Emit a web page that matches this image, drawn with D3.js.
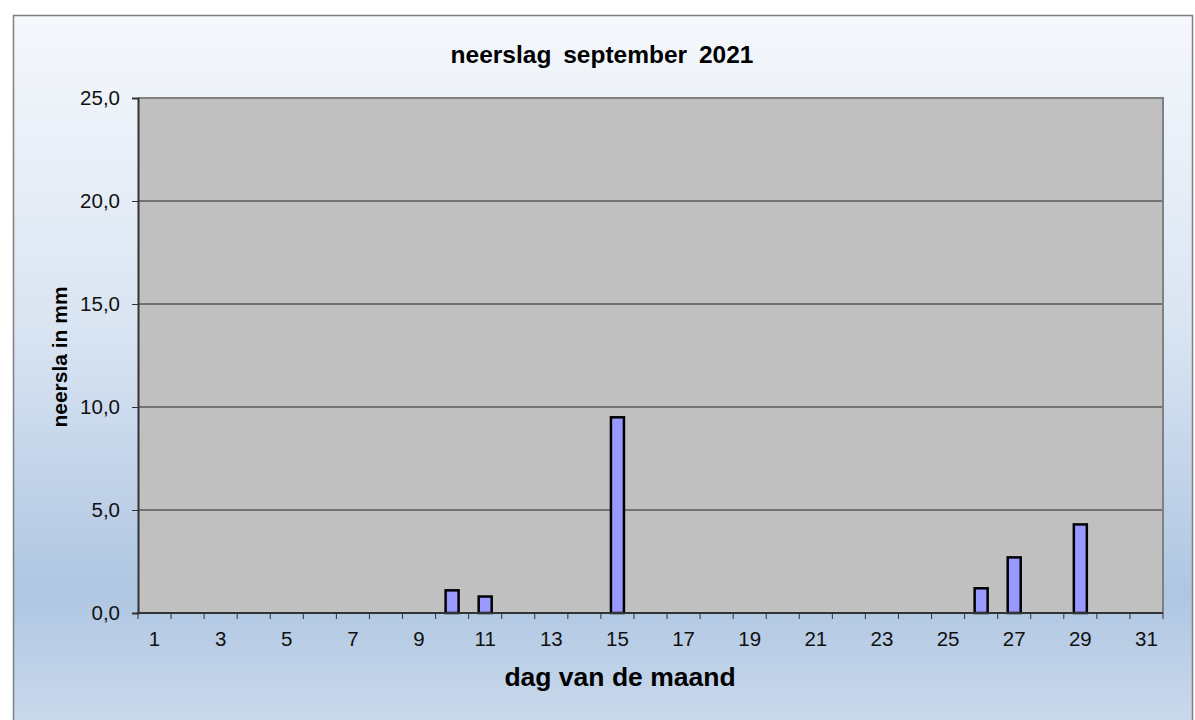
<!DOCTYPE html>
<html><head><meta charset="utf-8">
<script src="https://cdn.jsdelivr.net/npm/d3@7"></script>
<style>body{margin:0;background:#fff}svg{display:block}text{font-family:"Liberation Sans",Arial,sans-serif}</style>
</head><body>
<svg id="c" width="1195" height="720"></svg>
<script>
const days = d3.range(1, 32).map(String);
const values = [0,0,0,0,0,0,0,0,0,1.1,0.8,0,0,0,9.5,0,0,0,0,0,0,0,0,0,0,1.2,2.7,0,4.3,0,0];
const yTicks = [0,5,10,15,20,25];
const xTickLabels = ["1","3","5","7","9","11","13","15","17","19","21","23","25","27","29","31"];
const title = "neerslag september 2021";
const xTitle = "dag van de maand";
const yTitle = "neersla in mm";

const svg = d3.select("#c");
const defs = svg.append("defs");
const g = defs.append("linearGradient").attr("id","bg").attr("gradientUnits","userSpaceOnUse")
  .attr("x1",0).attr("y1",15).attr("x2",0).attr("y2",720);
g.append("stop").attr("offset",0).attr("stop-color","#f5f8fc");
g.append("stop").attr("offset",0.45).attr("stop-color","#d9e4f2");
g.append("stop").attr("offset",0.82).attr("stop-color","#afc6e2");
g.append("stop").attr("offset",1).attr("stop-color","#cad9ec");

svg.append("rect").attr("x",13.5).attr("y",15.5).attr("width",1179).attr("height",720)
  .attr("fill","url(#bg)").attr("stroke","#7f7f7f").attr("stroke-width",1.5);

const L=138, R=1163, T=98, B=613;
const x = d3.scaleBand().domain(days).range([L,R]).paddingInner(0).paddingOuter(0);
const y = d3.scaleLinear().domain([0,25]).range([B,T]);

svg.append("rect").attr("x",L).attr("y",T).attr("width",R-L).attr("height",B-T).attr("fill","#c0c0c0");

// gridlines
svg.append("g").selectAll("line").data(yTicks.filter(d=>d>0)).join("line")
  .attr("x1",L).attr("x2",R).attr("y1",d=>y(d)).attr("y2",d=>y(d))
  .attr("stroke","#262626").attr("stroke-width",1);

// plot border top/right
svg.append("path").attr("d",`M${L},${T}H${R}V${B}`).attr("fill","none").attr("stroke","#808080").attr("stroke-width",2);

// bars
const bw = 13;
svg.append("g").selectAll("rect").data(values.map((v,i)=>({d:days[i],v})).filter(o=>o.v>0)).join("rect")
  .attr("x",o=>x(o.d)+x.bandwidth()/2-bw/2).attr("width",bw)
  .attr("y",o=>y(o.v)).attr("height",o=>y(0)-y(o.v))
  .attr("fill","#9999ff").attr("stroke","#000").attr("stroke-width",2.5);

// y axis
const ya = svg.append("g").attr("transform",`translate(${L},0)`)
  .call(d3.axisLeft(y).tickValues(yTicks).tickSize(6).tickPadding(12).tickFormat(d=>d3.format(".1f")(d).replace(".",",")));
ya.select(".domain").attr("stroke","#333").attr("stroke-width",2);
ya.selectAll(".tick line").attr("stroke","#333");
ya.selectAll("text").attr("font-size",20.5).attr("fill","#111").attr("font-family","Liberation Sans, Arial, sans-serif");

// x axis
const xa = svg.append("g").attr("transform",`translate(0,${B})`)
  .call(d3.axisBottom(x).tickValues(xTickLabels).tickSize(0).tickPadding(18));
xa.select(".domain").remove();
xa.selectAll("text").attr("font-size",20.5).attr("fill","#111").attr("font-family","Liberation Sans, Arial, sans-serif");
svg.append("line").attr("x1",L-1).attr("x2",R).attr("y1",B).attr("y2",B).attr("stroke","#333").attr("stroke-width",2);
// x ticks at band boundaries
svg.append("g").selectAll("line").data(days.concat(["end"])).join("line")
  .attr("x1",d=>d==="end"?R:x(d)).attr("x2",d=>d==="end"?R:x(d))
  .attr("y1",B).attr("y2",B+6).attr("stroke","#333").attr("stroke-width",1);

// titles
svg.append("text").attr("x",602).attr("y",63).attr("text-anchor","middle")
  .attr("font-size",24.5).attr("font-weight","bold").attr("word-spacing",5).attr("fill","#000").text(title);
svg.append("text").attr("x",620).attr("y",686).attr("text-anchor","middle")
  .attr("font-size",26.5).attr("font-weight","bold").attr("fill","#000").text(xTitle);
svg.append("text").attr("transform",`translate(67,357) rotate(-90)`).attr("text-anchor","middle")
  .attr("font-size",21).attr("font-weight","bold").attr("fill","#000").text(yTitle);
</script>
</body></html>
